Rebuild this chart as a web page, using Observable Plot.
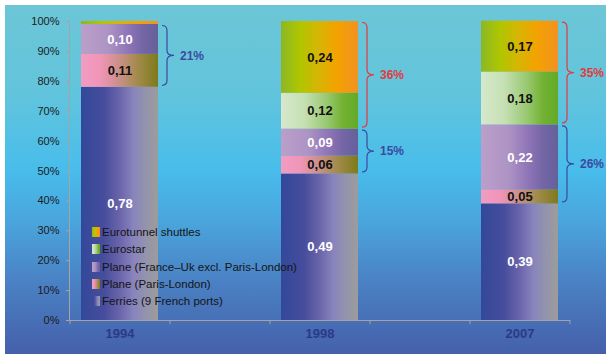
<!DOCTYPE html>
<html><head><meta charset="utf-8">
<script src="https://cdn.jsdelivr.net/npm/d3@7"></script>
<script src="https://cdn.jsdelivr.net/npm/@observablehq/plot@0.6"></script>
<style>
html,body{margin:0;padding:0;background:#fff;}
#wrap{position:absolute;left:5px;top:5px;width:601px;height:349px;overflow:hidden;
  background:linear-gradient(to bottom,#6cc6d6 0%,#62c4dc 25%,#48bdeb 47%,#4aa5dc 62%,#4a80c3 80%,#4560aa 100%);
  font-family:"Liberation Sans",Arial,sans-serif;}
#wrap svg{position:absolute;left:0;top:0;}
.legend{position:absolute;left:87px;top:220px;font-size:11.5px;color:#141414;}
.legend .row{position:absolute;left:0;white-space:nowrap;height:14px;line-height:14px;}
.legend .sw{position:absolute;left:0;top:2px;width:8px;height:10px;}
.legend .lb{position:absolute;left:10px;top:0;}
</style>
</head><body>
<div id="wrap"></div>
<script>
(function () {
// ---- data ----
const years = ["1994", "1998", "2007"];
const slots = ["1994", "gap1", "1998", "gap2", "2007"];
const seriesNames = ["Ferries (9 French ports)", "Plane (Paris-London)", "Plane (France–Uk excl. Paris-London)", "Eurostar", "Eurotunnel shuttles"];
const ferries = [0.78, 0.49, 0.39];
const planeParisLondon = [0.11, 0.06, 0.047];
const planeFranceUk = [0.10, 0.09, 0.217];
const eurostar = [0, 0.12, 0.177];
const eurotunnel = [0.01, 0.24, 0.17];
const yTicks = [0, 0.1, 0.2, 0.3, 0.4, 0.5, 0.6, 0.7, 0.8, 0.9, 1.0];
const braceGroups = [[1, 2], [3, 4]];

// ---- styles ----
const gradients = [
  [[0, "#33489a"], [0.3, "#474d9c"], [0.5, "#6a64aa"], [0.68, "#8884bd"], [0.85, "#9494ac"], [1, "#9c9c9c"]],
  [[0, "#f29cc2"], [0.25, "#f095b8"], [0.5, "#c99088"], [0.75, "#a08a48"], [1, "#7e7a1c"]],
  [[0, "#bb9fca"], [0.35, "#ae94c4"], [0.6, "#9176b8"], [0.8, "#7566a6"], [1, "#64609a"]],
  [[0, "#d6e8cc"], [0.3, "#c6e0b4"], [0.6, "#98c870"], [0.8, "#74b234"], [1, "#62aa26"]],
  [[0, "#8cb724"], [0.25, "#b0c600"], [0.5, "#d8b404"], [0.72, "#f4a200"], [1, "#f19222"]]
];
const labelFill = ["#ffffff", "#111111", "#ffffff", "#111111", "#111111"];
const braceColors = ["#3b4aa0", "#e23a3e"];

// ---- build table ----
const valuesBySeries = [ferries, planeParisLondon, planeFranceUk, eurostar, eurotunnel];
const rows = [];
years.forEach((year, i) => {
  let acc = 0;
  valuesBySeries.forEach((vals, s) => {
    const v = vals[i];
    rows.push({year, series: s, value: v, y1: acc, y2: acc + v, mid: acc + v / 2});
    acc += v;
  });
});
const braces = [];
years.forEach((year, i) => {
  braceGroups.forEach(([a, b], g) => {
    let y1 = 0;
    for (let s = 0; s < a; s++) y1 += valuesBySeries[s][i];
    let tot = 0;
    for (let s = a; s <= b; s++) tot += valuesBySeries[s][i];
    if (tot >= 0.05) braces.push({year, y1, y2: y1 + tot, mid: y1 + tot / 2, total: tot, group: g});
  });
});

const fmtVal = v => d3.format(".2f")(v).replace(".", ",");
const fmtPct = d3.format(".0%");

const W = 601, H = 349;
const mL = 64, mR = 36, mT = 16, mB = 34;
const chart = Plot.plot({
  width: W, height: H,
  marginLeft: mL, marginRight: mR, marginTop: mT, marginBottom: mB,
  style: {background: "transparent", fontFamily: "'Liberation Sans', Arial, sans-serif", overflow: "visible"},
  x: {domain: slots, type: "band", padding: 0.23, paddingOuter: 0.115, axis: null},
  y: {domain: [0, 1], axis: null},
  color: {type: "identity"},
  marks: [
    Plot.barY(rows.filter(d => d.value > 0), {x: "year", y1: "y1", y2: "y2", fill: d => `url(#grad${d.series})`}),
    Plot.text(rows.filter(d => d.value >= 0.04), {x: "year", y: "mid", text: d => fmtVal(d.value),
      fill: d => labelFill[d.series], fontWeight: "bold", fontSize: 13}),
    Plot.text(braces, {x: "year", y: "mid", text: d => fmtPct(d.total), dx: 60, textAnchor: "start",
      fill: d => braceColors[d.group], fontWeight: "bold", fontSize: 12}),
    Plot.axisY({ticks: yTicks, tickFormat: fmtPct, tickSize: 3, tickPadding: 7, fontSize: 11,
      stroke: "#a3a3a8", fill: "#1a1a22", label: null}),
    Plot.axisX({ticks: years, tickSize: 0, tickPadding: 8, fontSize: 13, fontWeight: "bold",
      fill: "#2b3a86", label: null})
  ]
});
document.getElementById("wrap").appendChild(chart);

const svg = d3.select(chart);
const defs = svg.insert("defs", ":first-child");
gradients.forEach((stops, i) => {
  const lg = defs.append("linearGradient").attr("id", "grad" + i).attr("x1", 0).attr("x2", 1).attr("y1", 0).attr("y2", 0);
  stops.forEach(([o, c]) => lg.append("stop").attr("offset", o).attr("stop-color", c));
});
const sx = chart.scale("x"), sy = chart.scale("y");
const pL = mL, pR = W - mR, pT = mT, pB = H - mB;
const axisColor = "#a3a3a8";
const g = svg.append("g");
g.append("line").attr("x1", pL + 0.5).attr("x2", pL + 0.5).attr("y1", pT).attr("y2", pB).attr("stroke", axisColor);
g.append("line").attr("x1", pL - 3).attr("x2", pR).attr("y1", pB + 0.5).attr("y2", pB + 0.5).attr("stroke", axisColor);
const gapOuter = (sx.step - sx.bandwidth) / 2;
slots.forEach((s, k) => {
  const bx = sx.apply(s) - gapOuter;
  g.append("line").attr("x1", bx + 0.5).attr("x2", bx + 0.5).attr("y1", pB).attr("y2", pB + 4).attr("stroke", axisColor);
  if (k === slots.length - 1) {
    const ex = bx + sx.step;
    g.append("line").attr("x1", ex + 0.5).attr("x2", ex + 0.5).attr("y1", pB).attr("y2", pB + 4).attr("stroke", axisColor);
  }
});
braces.forEach(b => {
  const x0 = sx.apply(b.year) + sx.bandwidth + 4;
  const t = sy.apply(b.y2) + 1.5, bt = sy.apply(b.y1) - 1.5, m = (t + bt) / 2;
  const xv = x0 + 5, xm = x0 + 12, r = Math.min(5, (bt - t) / 4);
  const d = `M${x0},${t} Q${xv},${t} ${xv},${t + r} L${xv},${m - r} Q${xv},${m} ${xm},${m} Q${xv},${m} ${xv},${m + r} L${xv},${bt - r} Q${xv},${bt} ${x0},${bt}`;
  g.append("path").attr("d", d).attr("fill", "none").attr("stroke", braceColors[b.group]).attr("stroke-width", 1.2);
});

const legend = d3.select("#wrap").append("div").attr("class", "legend");
const order = [4, 3, 2, 1, 0];
order.forEach((s, k) => {
  const row = legend.append("div").attr("class", "row").style("top", (k * 17.3) + "px");
  const css = "linear-gradient(to right," + gradients[s].map(([o, c]) => `${c} ${o * 100}%`).join(",") + ")";
  row.append("span").attr("class", "sw").style("background", css);
  row.append("span").attr("class", "lb").text(seriesNames[s]);
});
})();
</script>
</body></html>
